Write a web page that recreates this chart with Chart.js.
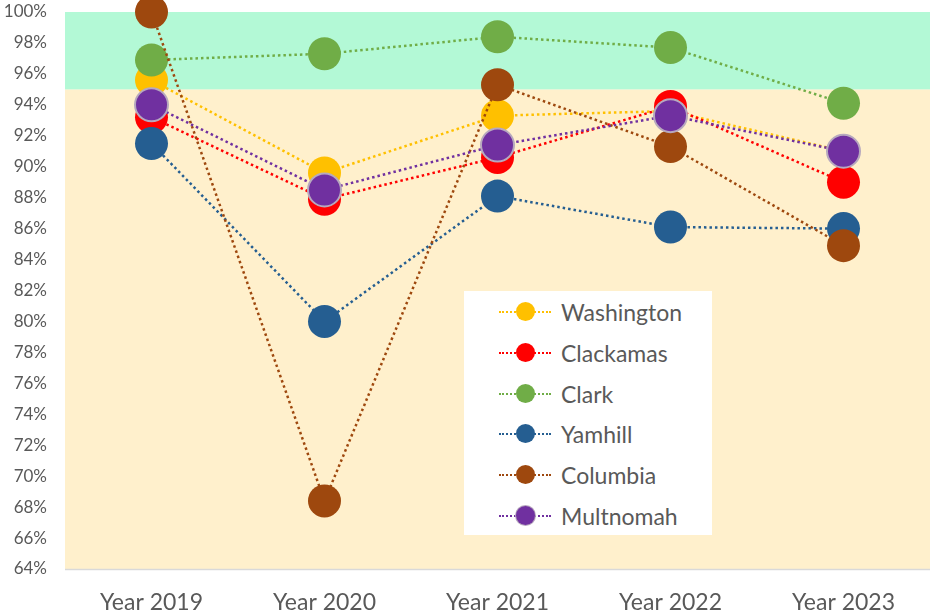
<!DOCTYPE html>
<html>
<head>
<meta charset="utf-8">
<script src="https://cdn.jsdelivr.net/npm/chart.js@4"></script>
<style>
  html, body { margin: 0; padding: 0; background: #fff; }
  #wrap { position: relative; width: 930px; height: 616px; overflow: hidden; }
  #legend {
    position: absolute; left: 464px; top: 291px; width: 248px; height: 244px;
    background: #fff; font-family: Lato, "Liberation Sans", sans-serif; font-size: 23px; color: #595959;
  }
  .item { position: absolute; left: 35px; height: 30px; display: flex; align-items: center; }
  .sample { position: relative; width: 52px; height: 20px; margin-right: 10px; }
  .sample .ln { position: absolute; left: 0; right: 0; top: 9px; border-top: 2px dotted; }
  .sample .dot { position: absolute; left: 17px; top: 0; width: 19px; height: 19px; border-radius: 50%; }
</style>
</head>
<body>
<div id="wrap">
  <canvas id="chart" width="930" height="616"></canvas>
  <div id="legend"></div>
</div>
<script>
// Data
const years = ['Year 2019', 'Year 2020', 'Year 2021', 'Year 2022', 'Year 2023'];
const washington = [95.6, 89.6, 93.3, 93.6, 91.0];
const clackamas = [93.2, 87.9, 90.6, 93.9, 89.0];
const clark = [96.9, 97.3, 98.4, 97.7, 94.1];
const yamhill = [91.5, 80.0, 88.1, 86.1, 86.0];
const columbia = [100.0, 68.4, 95.3, 91.3, 84.9];
const multnomah = [94.0, 88.5, 91.4, 93.3, 91.0];

// Background bands (percent)
const axisMin = 64;
const axisMax = 100;
const goodFrom = 95;

const series = [
    { label: 'Washington', data: washington, color: '#FFC000' },
    { label: 'Clackamas', data: clackamas, color: '#FF0000' },
    { label: 'Clark', data: clark, color: '#70AD47' },
    { label: 'Yamhill', data: yamhill, color: '#255E91' },
    { label: 'Columbia', data: columbia, color: '#9E480E' },
    { label: 'Multnomah', data: multnomah, color: '#7030A0', edge: '#B7A8BE' }
];

const bands = {
    id: 'bands',
    beforeDatasetsDraw(chart) {
        const { ctx, chartArea: a, scales: { y } } = chart;
        ctx.save();
        ctx.fillStyle = '#FFF0CC';
        ctx.fillRect(a.left, y.getPixelForValue(goodFrom), a.right - a.left, y.getPixelForValue(axisMin) - y.getPixelForValue(goodFrom));
        ctx.fillStyle = '#B3F9D6';
        ctx.fillRect(a.left, y.getPixelForValue(axisMax), a.right - a.left, y.getPixelForValue(goodFrom) - y.getPixelForValue(axisMax));
        // bottom axis line
        ctx.strokeStyle = '#D9D9D9';
        ctx.lineWidth = 1.5;
        ctx.beginPath();
        ctx.moveTo(a.left, a.bottom + 0.5);
        ctx.lineTo(a.right, a.bottom + 0.5);
        ctx.stroke();
        ctx.restore();
    }
};

const font = 'Lato, "Liberation Sans", sans-serif';

new Chart(document.getElementById('chart'), {
    type: 'line',
    data: {
        labels: years,
        datasets: series.map((s, i) => ({
            label: s.label,
            data: s.data,
            order: -i,
            borderColor: s.color,
            backgroundColor: s.color,
            borderWidth: 2.5,
            borderDash: [2.5, 3],
            pointRadius: 16.5,
            pointHoverRadius: 16.5,
            pointBackgroundColor: s.color,
            pointBorderColor: s.edge || s.color,
            pointBorderWidth: s.edge ? 2 : 0,
            clip: false,
            tension: 0
        }))
    },
    options: {
        responsive: false,
        animation: false,
        layout: { autoPadding: false, padding: { top: 12, right: -3, left: 0, bottom: 0 } },
        plugins: { legend: { display: false }, tooltip: { enabled: false } },
        scales: {
            x: {
                offset: true,
                grid: { display: false, drawTicks: false },
                border: { display: false },
                ticks: { color: '#595959', font: { family: font, size: 23 }, padding: 20 },
                afterFit: (s) => { s.height = 47; s.paddingLeft = 0; s.paddingRight = 0; }
            },
            y: {
                min: axisMin,
                max: axisMax,
                grid: { display: false, drawTicks: false },
                border: { display: false },
                ticks: {
                    stepSize: 2,
                    color: '#595959',
                    padding: 18,
                    font: { family: font, size: 17 },
                    callback: (v) => v + '%'
                },
                afterFit: (s) => { s.width = 65; s.paddingTop = 0; s.paddingBottom = 0; }
            }
        }
    },
    plugins: [bands]
});

// Legend
const legend = document.getElementById('legend');
series.forEach((s, i) => {
    const item = document.createElement('div');
    item.className = 'item';
    item.style.top = (6 + i * 40.8) + 'px';
    item.innerHTML = `<div class="sample"><div class="ln" style="border-color:${s.color}"></div>` +
        `<div class="dot" style="background:${s.color}${s.edge ? ';box-shadow:0 0 0 1px ' + s.edge : ''}"></div></div>` +
        `<span>${s.label}</span>`;
    legend.appendChild(item);
});
</script>
</body>
</html>
